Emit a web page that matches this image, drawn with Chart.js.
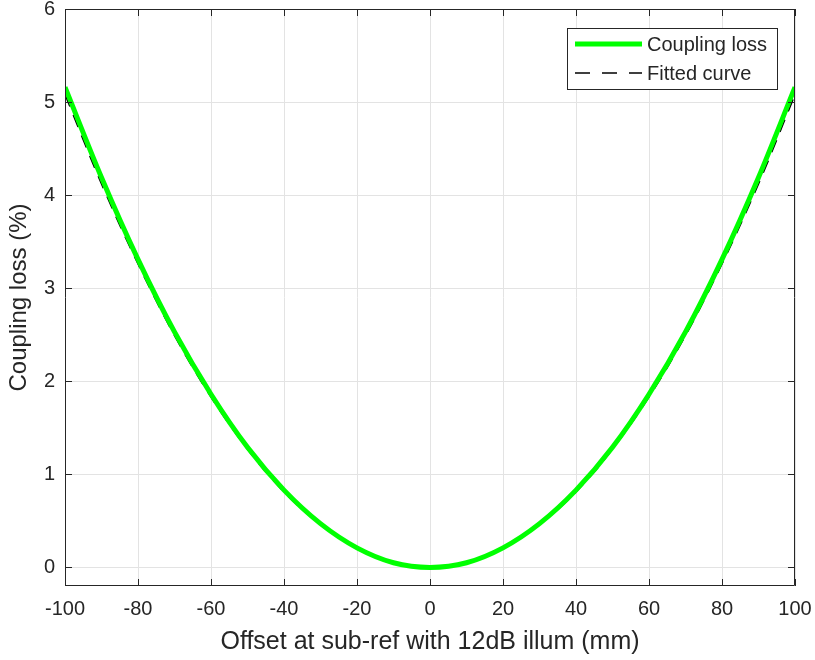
<!DOCTYPE html>
<html>
<head>
<meta charset="utf-8">
<script src="https://cdn.jsdelivr.net/npm/chart.js@4.4.1/dist/chart.umd.min.js"></script>
<style>
  html, body { margin: 0; padding: 0; background: #fff; }
  #wrap { width: 815px; height: 660px; }
</style>
</head>
<body>
<div id="wrap"><canvas id="chart" width="815" height="660"></canvas></div>
<script>
// offsets (mm)
const offsets = [-100, -90, -80, -70, -60, -50, -40, -30, -20, -10, 0, 10, 20, 30, 40, 50, 60, 70, 80, 90, 100];
// coupling loss (%)
const couplingLoss = [5.16, 4.19, 3.31, 2.53, 1.86, 1.29, 0.83, 0.47, 0.21, 0.05, 0, 0.05, 0.21, 0.47, 0.83, 1.29, 1.86, 2.53, 3.31, 4.19, 5.16];
// fitted curve
const fitted = [5.08, 4.12, 3.26, 2.49, 1.83, 1.27, 0.81, 0.46, 0.20, 0.05, 0, 0.05, 0.20, 0.46, 0.81, 1.27, 1.83, 2.49, 3.26, 4.12, 5.08];

const xTicks = [-100, -80, -60, -40, -20, 0, 20, 40, 60, 80, 100];
const yTicks = [0, 1, 2, 3, 4, 5, 6];

const FONT = '"Liberation Sans", Arial, sans-serif';

// box, inward ticks and legend like the original figure
const boxPlugin = {
  id: 'box',
  afterDraw(chart) {
    const { ctx, chartArea: a, scales } = chart;
    ctx.save();
    ctx.strokeStyle = '#262626';
    ctx.lineWidth = 1;
    ctx.beginPath();
    ctx.rect(a.left + 0.5, a.top + 0.5, a.right - a.left - 1, a.bottom - a.top - 1);
    ctx.stroke();
    const len = 7;
    ctx.beginPath();
    xTicks.forEach(v => {
      const x = Math.round(scales.x.getPixelForValue(v)) + 0.5;
      ctx.moveTo(x, a.bottom); ctx.lineTo(x, a.bottom - len);
      ctx.moveTo(x, a.top); ctx.lineTo(x, a.top + len);
    });
    yTicks.forEach(v => {
      const y = Math.round(scales.y.getPixelForValue(v)) + 0.5;
      ctx.moveTo(a.left, y); ctx.lineTo(a.left + len, y);
      ctx.moveTo(a.right, y); ctx.lineTo(a.right - len, y);
    });
    ctx.stroke();

    // legend
    const lx = 567, ly = 28, lw = 210, lh = 61;
    ctx.fillStyle = '#fff';
    ctx.fillRect(lx, ly, lw, lh);
    ctx.strokeStyle = '#262626';
    ctx.strokeRect(lx + 0.5, ly + 0.5, lw, lh);
    ctx.font = '20px ' + FONT;
    ctx.textBaseline = 'middle';
    chart.data.datasets.forEach((ds, i) => {
      const y = ly + 16 + i * 29;
      ctx.strokeStyle = ds.borderColor;
      ctx.lineWidth = ds.borderWidth;
      ctx.setLineDash(ds.borderDash ? [15, 12] : []);
      ctx.beginPath();
      ctx.moveTo(lx + 8, y); ctx.lineTo(lx + 75, y);
      ctx.stroke();
      ctx.setLineDash([]);
      ctx.fillStyle = '#262626';
      ctx.fillText(ds.label, lx + 80, y + 1);
    });
    ctx.restore();
  }
};

new Chart(document.getElementById('chart'), {
  type: 'line',
  data: {
    datasets: [{
      label: 'Coupling loss',
      data: offsets.map((x, i) => ({ x: x, y: couplingLoss[i] })),
      borderColor: '#00ff00',
      borderWidth: 5,
      pointRadius: 0,
      cubicInterpolationMode: 'monotone'
    }, {
      label: 'Fitted curve',
      data: offsets.map((x, i) => ({ x: x, y: fitted[i] })),
      borderColor: '#000000',
      borderWidth: 1.5,
      borderDash: [13, 9],
      pointRadius: 0,
      cubicInterpolationMode: 'monotone'
    }]
  },
  options: {
    responsive: false,
    animation: false,
    layout: { padding: 0 },
    plugins: { legend: { display: false }, tooltip: { enabled: false } },
    scales: {
      x: {
        type: 'linear',
        min: -100, max: 100,
        afterBuildTicks: s => { s.ticks = xTicks.map(v => ({ value: v })); },
        afterFit: s => { s.height = 74; s.paddingLeft = 0; s.paddingRight = 20; },
        grid: { color: '#e3e3e3', tickLength: 0, drawTicks: false },
        border: { display: false },
        ticks: { color: '#262626', font: { family: FONT, size: 20 }, padding: 11, maxRotation: 0 },
        title: { display: true, text: 'Offset at sub-ref with 12dB illum (mm)', color: '#262626', font: { family: FONT, size: 25 }, padding: { top: 4, bottom: 3 } }
      },
      y: {
        min: -0.2, max: 6,
        afterBuildTicks: s => { s.ticks = yTicks.map(v => ({ value: v })); },
        afterFit: s => { s.width = 65; s.paddingTop = 9; s.paddingBottom = 0; },
        grid: { color: '#e3e3e3', tickLength: 0, drawTicks: false },
        border: { display: false },
        ticks: { color: '#262626', font: { family: FONT, size: 20 }, padding: 10 },
        title: { display: true, text: 'Coupling loss (%)', color: '#262626', font: { family: FONT, size: 24 }, padding: { top: 5, bottom: 2 } }
      }
    }
  },
  plugins: [boxPlugin]
});
</script>
</body>
</html>
